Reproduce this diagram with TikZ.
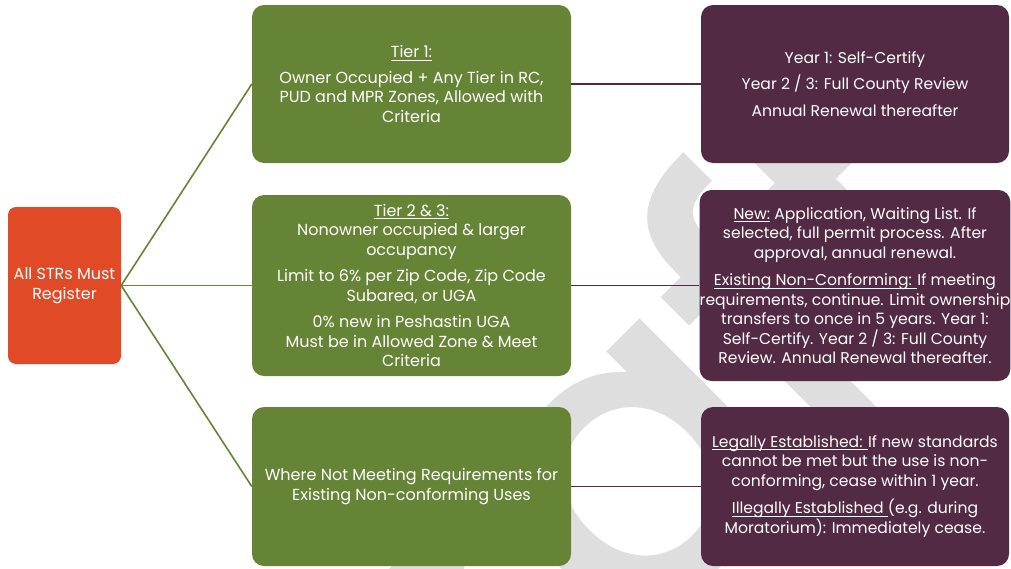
\documentclass[tikz,border=0pt]{standalone}
\usepackage{fontspec}
\setmainfont{Poppins}
\newfontfamily\wmfont{Poppins}
\definecolor{strred}{HTML}{E14A27}
\definecolor{strgreen}{HTML}{668436}
\definecolor{strpurple}{HTML}{532A44}
\definecolor{wmgray}{HTML}{DEDEDE}
\newcommand\ulx[1]{\setbox0\hbox{#1}\rlap{\rule[-2.8pt]{\wd0}{0.8pt}}\box0\relax}
\newcommand\thicktext[1]{\special{pdf:literal direct 2 Tr 10 w}#1\special{pdf:literal direct 0 Tr 1 w}}
\tikzset{
  box/.style={rounded corners=12pt, inner sep=0pt, align=center, text=white,
    font=\fontsize{16}{19.5}\selectfont},
  redbox/.style={box, fill=strred, rounded corners=8pt, minimum width=113pt, minimum height=157pt},
  greenbox/.style={box, fill=strgreen, minimum width=319pt},
  purplebox/.style={box, fill=strpurple, minimum width=308pt, font=\fontsize{15.6}{19.5}\selectfont},
  gline/.style={draw=strgreen, line width=1.6pt},
  pline/.style={draw=strpurple, line width=1.6pt},
  wm/.style={inner sep=0pt, text=wmgray, rotate=45, font=\wmfont\fontsize{400}{400}\selectfont},
}
\begin{document}
\begin{tikzpicture}[x=1pt,y=-1pt]
\useasboundingbox (0,0) rectangle (1011,568);
\begin{scope}
\clip (0,0) rectangle (1011,568);
\coordinate (wmp) at (625,650);
\node[wm, anchor=base east] (wm1) at (wmp) {\color{wmgray}\thicktext{Dr}};
\node[wm, anchor=base west] (wm2) at (wmp) {\color{wmgray}\thicktext{aft}};
\end{scope}

\node[redbox] (all) at (64.5,285.5) {All STRs Must\\Register};

\node[greenbox, minimum height=158pt] (g1) at (411.5,84) {\ulx{Tier 1:}\\[6pt]Owner Occupied + Any Tier in RC,\\PUD and MPR Zones, Allowed with\\Criteria};
\node[greenbox, minimum height=181pt] (g2) at (411.5,285.5) {\ulx{Tier 2 \& 3:}\\Nonowner occupied \& larger\\occupancy\\[7pt]Limit to 6\% per Zip Code, Zip Code\\Subarea, or UGA\\[7pt]0\% new in Peshastin UGA\\Must be in Allowed Zone \& Meet\\Criteria};
\node[greenbox, minimum height=159pt] (g3) at (411.5,486.5) {Where Not Meeting Requirements for\\Existing Non-conforming Uses};

\node[purplebox, minimum height=158pt] (p1) at (855,84) {Year 1: Self-Certify\\[7pt]Year 2 / 3: Full County Review\\[7pt]Annual Renewal thereafter};
\node[purplebox, minimum height=191pt] (p2) at (855,285.5) {\ulx{New:} Application, Waiting List. If\\selected, full permit process. After\\approval, annual renewal.\\[8pt]\ulx{Existing Non-Conforming: }If meeting\\requirements, continue. Limit ownership\\transfers to once in 5 years. Year 1:\\Self-Certify. Year 2 / 3: Full County\\Review. Annual Renewal thereafter.};
\node[purplebox, minimum height=159pt] (p3) at (855,486.5) {\ulx{Legally Established: }If new standards\\cannot be met but the use is non-\\conforming, cease within 1 year.\\[8pt]\ulx{Illegally Established }(e.g. during\\Moratorium): Immediately cease.};

\draw[gline] (all.east) -- (g1.west);
\draw[gline] (all.east) -- (g2.west);
\draw[gline] (all.east) -- (g3.west);
\draw[pline] (g1.east) -- (p1.west);
\draw[pline] (g2.east) -- (p2.west);
\draw[pline] (g3.east) -- (p3.west);
\end{tikzpicture}
\end{document}
